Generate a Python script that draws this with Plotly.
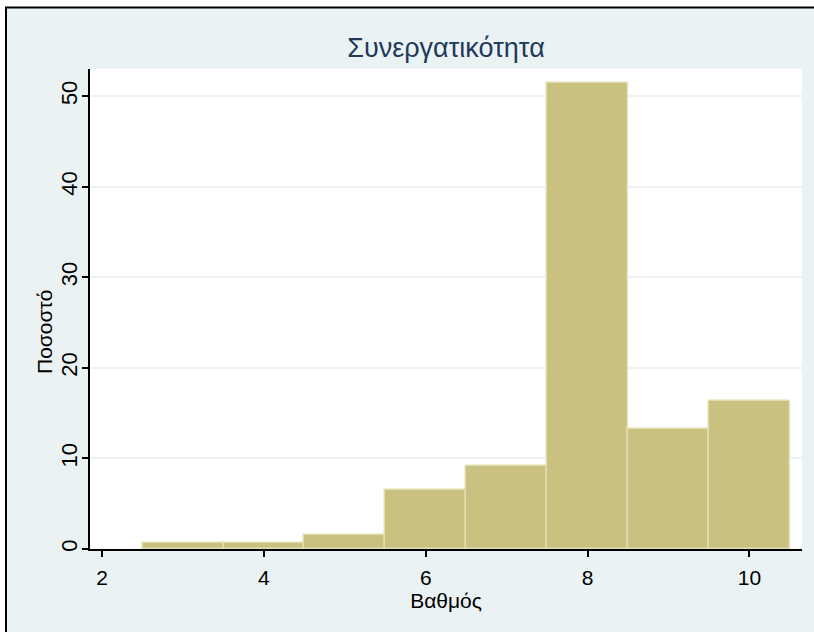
import plotly.graph_objects as go

# Data
categories = [3, 4, 5, 6, 7, 8, 9, 10]
percent = [0.71, 0.71, 1.5, 6.5, 9.15, 51.45, 13.3, 16.35]
title_text = "Συνεργατικότητα"
x_title = "Βαθμός"
y_title = "Ποσοστό"
x_ticks = [2, 4, 6, 8, 10]
y_ticks = [0, 10, 20, 30, 40, 50]

W, H = 814, 632
L, R, T, B = 90, 12, 69, 83
pw, ph = W - L - R, H - T - B

def px(x):
    return (x - L) / pw

def py(y):
    return (H - B - y) / ph

BG = "#EAF2F3"
FONT = "Liberation Sans"

fig = go.Figure()
fig.add_trace(go.Bar(
    x=categories, y=percent, width=1.0,
    marker=dict(color="#C9C17F", line=dict(color="#E2DDAE", width=1.5)),
    showlegend=False,
))

shapes = [
    # white strip outside the frame (top and left)
    dict(type="rect", xref="paper", yref="paper", x0=px(-5), x1=px(W + 5), y0=py(7), y1=py(-5),
         fillcolor="white", line=dict(width=0), layer="below"),
    dict(type="rect", xref="paper", yref="paper", x0=px(-5), x1=px(5), y0=py(H + 5), y1=py(-5),
         fillcolor="white", line=dict(width=0), layer="below"),
    # frame lines
    dict(type="line", xref="paper", yref="paper", x0=px(5), x1=px(W + 5), y0=py(7.5), y1=py(7.5),
         line=dict(color="black", width=2)),
    dict(type="line", xref="paper", yref="paper", x0=px(6), x1=px(6), y0=py(7), y1=py(H + 5),
         line=dict(color="black", width=2)),
]

fig.update_layout(
    width=W, height=H,
    margin=dict(l=L, r=R, t=T, b=B, autoexpand=False),
    paper_bgcolor=BG, plot_bgcolor="white",
    font=dict(family=FONT, color="black"),
    title=dict(text=title_text, x=(L + pw / 2) / W, xanchor="center", y=1 - 48 / H, yanchor="middle",
               font=dict(family=FONT, size=27, color="#23395B")),
    bargap=0,
    shapes=shapes,
    annotations=[dict(text=y_title, xref="paper", yref="paper", x=px(44), y=py(332),
                      xanchor="center", yanchor="middle", textangle=-90, showarrow=False,
                      font=dict(size=21, color="black"))],
    xaxis=dict(
        range=[1.85, 10.65], tickvals=x_ticks, ticktext=[str(v) for v in x_ticks],
        showgrid=False, zeroline=False, showline=True, linecolor="black", linewidth=1.5,
        ticks="outside", ticklen=6, tickcolor="black", tickwidth=1.5,
        ticklabelstandoff=3,
        tickfont=dict(size=21), title=dict(text=x_title, font=dict(size=21), standoff=0),
    ),
    yaxis=dict(
        range=[0, 53.0], tickvals=y_ticks, ticktext=[str(v) for v in y_ticks],
        showgrid=True, gridcolor=BG, gridwidth=2, zeroline=False,
        showline=True, linecolor="black", linewidth=1.5,
        ticks="outside", ticklen=6, tickcolor="black", tickwidth=1.5, tickangle=-90,
        ticklabelstandoff=-4,
        tickfont=dict(size=22),
    ),
)

fig.write_html(
    "out.html",
    config={"displayModeBar": False},
    post_script="document.body.style.margin='0px';document.body.style.overflow='hidden';",
)
